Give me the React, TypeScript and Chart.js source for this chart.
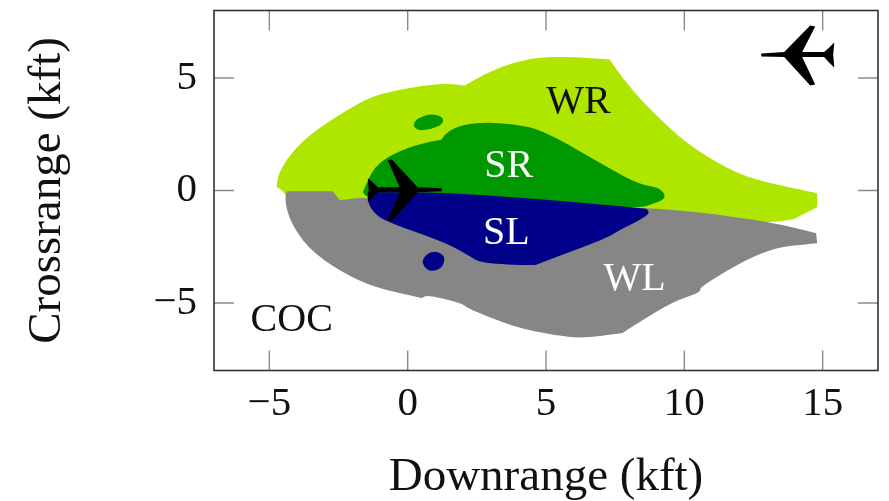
import React, { useEffect, useRef } from "react";
import { Chart, registerables } from "chart.js";

Chart.register(...registerables);

type P = { x: number; y: number };
const pts = (a: number[][]): P[] => a.map(([x, y]) => ({ x, y }));

const xTicks = [-5, 0, 5, 10, 15];
const yTicks = [-5, 0, 5];

const wrRegion = [[-4.73,.15],[-4.73,.15],[-4.71,.59],[-4.40,1.36],[-3.85,2.14],[-3.12,2.85],[-2.17,3.60],[-1.30,4.18],[-.36,4.47],[.72,4.69],[1.5,4.75],[2.06,4.67],[2.06,4.67],[2.89,5.25],[3.86,5.71],[4.77,5.92],[5.96,5.94],[6.82,5.85],[7.29,5.83],[7.29,5.83],[7.76,5.02],[8.38,4.09],[9.35,2.90],[10.18,2.01],[11.52,.99],[12.60,.46],[14.80,-.12],[14.80,-.12],[14.80,-.74],[14.80,-.74],[13.97,-1.27],[13.97,-1.27],[13.18,-1.41],[10.54,-1.54],[-.29,-1.54],[-3.90,-.65],[-4.37,-.34],[-4.51,.01]];
const wlRegion = [[-4.44,-.43],[-4.37,-.03],[-4.37,-.03],[-2.71,-.03],[-2.71,-.03],[-2.45,-.43],[-2.45,-.43],[-1.62,-.30],[-1.0,-.43],[3.32,-.43],[8.63,-.78],[10.54,-.96],[13.18,-1.41],[14.76,-1.89],[14.76,-1.89],[14.80,-2.34],[14.80,-2.34],[12.96,-2.56],[10.54,-4.28],[10.61,-4.51],[9.57,-4.95],[8.38,-5.84],[7.76,-6.33],[7.76,-6.33],[6.32,-6.57],[5.31,-6.44],[3.86,-6.08],[2.17,-5.24],[1.95,-5.00],[.72,-4.64],[.51,-4.78],[.51,-4.78],[-1.19,-4.31],[-2.38,-3.64],[-3.61,-2.58],[-4.26,-1.34]];
const srRegion = [[-1.62,-.08],[-1.62,-.08],[-1.44,.46],[-1.19,1.03],[-.72,1.50],[.25,2.03],[1.23,2.27],[1.23,2.27],[1.41,2.59],[1.95,2.92],[3.03,3.05],[4.48,2.83],[5.31,2.38],[5.96,1.94],[7.18,1.05],[8.38,.26],[9.10,.15],[9.39,-.34],[8.74,-.65],[8.38,-.78],[3.32,-.61],[-1.44,-.34]];
const srIsland = [[.18,2.90],[.36,3.23],[.87,3.42],[1.28,3.27],[1.28,2.96],[.87,2.74],[.36,2.65]];
const slRegion = [[-1.44,-.08],[-1.44,-.08],[1.23,-.08],[5.31,-.43],[8.63,-.81],[8.63,-.81],[8.76,-1.01],[8.38,-1.32],[7.65,-1.76],[7.18,-2.12],[4.77,-3.24],[4.58,-3.33],[2.67,-3.24],[2.17,-2.87],[1.34,-2.29],[-.72,-1.41],[-1.26,-.98],[-1.46,-.43]];
const slIsland = [[.51,-3.05],[.87,-2.65],[1.36,-2.85],[1.28,-3.42],[.87,-3.62],[.59,-3.42]];
const ownship = [[1.23,.10],[.36,.15],[-.58,1.39],[-.72,1.34],[-.29,.15],[-1.08,.15],[-1.30,.41],[-1.44,.55],[-1.41,.06],[-1.44,-.52],[-1.30,-.34],[-1.08,-.08],[-.29,-.08],[-.72,-1.32],[-.61,-1.41],[.36,-.08],[1.23,-.03]];
const intruder = [[12.78,6.09],[13.61,6.16],[14.55,7.33],[14.73,7.29],[14.26,6.16],[15.05,6.16],[15.23,6.35],[15.42,6.58],[15.38,6.04],[15.42,5.47],[15.23,5.69],[15.05,5.93],[14.26,5.93],[14.73,4.71],[14.55,4.67],[13.61,5.93],[12.78,5.96]];

const regionLabels = ["WR", "SR", "SL", "WL", "COC"];
const regionLabelX = [6.17, 3.65, 3.57, 8.2, -4.19];
const regionLabelY = [3.91, 1.08, -1.89, -3.94, -5.76];
const regionLabelColors = ["#111111", "#ffffff", "#ffffff", "#ffffff", "#111111"];

const FONT = '"Liberation Serif", serif';

const regionPlugin = {
  id: "regions",
  beforeDatasetsDraw(chart: any) {
    const { ctx } = chart;
    ctx.save();
    chart.data.datasets.forEach((ds: any, i: number) => {
      const els = chart.getDatasetMeta(i).data;
      const n = els.length;
      ctx.beginPath();
      if (ds.smooth) {
        const mid = (a: any, b: any) => ({ x: (a.x + b.x) / 2, y: (a.y + b.y) / 2 });
        const s = mid(els[n - 1], els[0]);
        ctx.moveTo(s.x, s.y);
        els.forEach((el: any, j: number) => {
          const m = mid(el, els[(j + 1) % n]);
          ctx.quadraticCurveTo(el.x, el.y, m.x, m.y);
        });
      } else {
        els.forEach((el: any, j: number) => (j ? ctx.lineTo(el.x, el.y) : ctx.moveTo(el.x, el.y)));
      }
      ctx.closePath();
      ctx.fillStyle = ds.backgroundColor;
      ctx.fill();
    });
    ctx.restore();
  },
  afterDatasetsDraw(chart: any) {
    const { ctx, chartArea: a, scales } = chart;
    const { x, y } = scales;
    ctx.save();
    ctx.strokeStyle = "#8a8a8a";
    ctx.lineWidth = 1.4;
    ctx.beginPath();
    xTicks.forEach((v) => {
      const p = x.getPixelForValue(v);
      ctx.moveTo(p, a.top);
      ctx.lineTo(p, a.top + 20);
      ctx.moveTo(p, a.bottom);
      ctx.lineTo(p, a.bottom - 20);
    });
    yTicks.forEach((v) => {
      const p = y.getPixelForValue(v);
      ctx.moveTo(a.left, p);
      ctx.lineTo(a.left + 20, p);
      ctx.moveTo(a.right, p);
      ctx.lineTo(a.right - 20, p);
    });
    ctx.stroke();
    ctx.strokeStyle = "#333333";
    ctx.lineWidth = 1.6;
    ctx.strokeRect(a.left, a.top, a.right - a.left, a.bottom - a.top);
    ctx.font = `40px ${FONT}`;
    ctx.textAlign = "center";
    ctx.textBaseline = "middle";
    regionLabels.forEach((t, i) => {
      ctx.fillStyle = regionLabelColors[i];
      ctx.fillText(t, x.getPixelForValue(regionLabelX[i]), y.getPixelForValue(regionLabelY[i]));
    });
    ctx.restore();
  },
};

const region = (label: string, data: number[][], color: string, smooth = true) => ({
  label,
  data: pts(data),
  backgroundColor: color,
  borderColor: color,
  showLine: false,
  pointRadius: 0,
  pointHoverRadius: 0,
  smooth,
});

export default function App() {
  const ref = useRef<HTMLCanvasElement>(null);
  useEffect(() => {
    const chart = new Chart(ref.current!, {
      type: "scatter",
      data: {
        datasets: [
          region("WR", wrRegion, "#aee600"),
          region("WL", wlRegion, "#868686"),
          region("SR", srRegion, "#009800"),
          region("SR island", srIsland, "#009800"),
          region("SL", slRegion, "#000088"),
          region("SL island", slIsland, "#000088"),
          region("Ownship", ownship, "#000000", false),
          region("Intruder", intruder, "#000000", false),
        ],
      } as any,
      options: {
        animation: false,
        responsive: false,
        layout: { padding: { top: 10.5, right: 11, left: 0, bottom: 0 } },
        plugins: { legend: { display: false }, tooltip: { enabled: false } },
        scales: {
          x: {
            type: "linear",
            min: -7,
            max: 17,
            afterBuildTicks: (s: any) => {
              s.ticks = xTicks.map((value) => ({ value }));
            },
            afterFit: (s: any) => {
              s.height = 130.5;
              s.paddingLeft = 0;
              s.paddingRight = 0;
            },
            grid: { display: false, drawTicks: false },
            border: { display: false },
            ticks: {
              padding: 9,
              maxRotation: 0,
              autoSkip: false,
              color: "#111111",
              font: { family: FONT, size: 41 },
              callback: (v: any) => (Number(v) < 0 ? "\u2212" + Math.abs(Number(v)) : String(v)),
            },
            title: {
              display: true,
              text: "Downrange (kft)",
              color: "#111111",
              font: { family: FONT, size: 47 },
              padding: { top: 0, bottom: -5 },
            },
          },
          y: {
            type: "linear",
            min: -8,
            max: 8,
            afterBuildTicks: (s: any) => {
              s.ticks = yTicks.map((value) => ({ value }));
            },
            afterFit: (s: any) => {
              s.width = 214;
              s.paddingTop = 0;
              s.paddingBottom = 0;
            },
            grid: { display: false, drawTicks: false },
            border: { display: false },
            ticks: {
              padding: 17,
              color: "#111111",
              font: { family: FONT, size: 41 },
              callback: (v: any) => (Number(v) < 0 ? "\u2212" + Math.abs(Number(v)) : String(v)),
            },
            title: {
              display: true,
              text: "Crossrange (kft)",
              color: "#111111",
              font: { family: FONT, size: 47 },
              padding: { top: 19, bottom: 0 },
            },
          },
        },
      },
      plugins: [regionPlugin],
    } as any);
    return () => chart.destroy();
  }, []);
  return (
    <div style={{ position: "fixed", left: 0, top: 0, width: 889, height: 501, background: "#ffffff" }}>
      <canvas ref={ref} width={889} height={501} style={{ display: "block" }} />
    </div>
  );
}
